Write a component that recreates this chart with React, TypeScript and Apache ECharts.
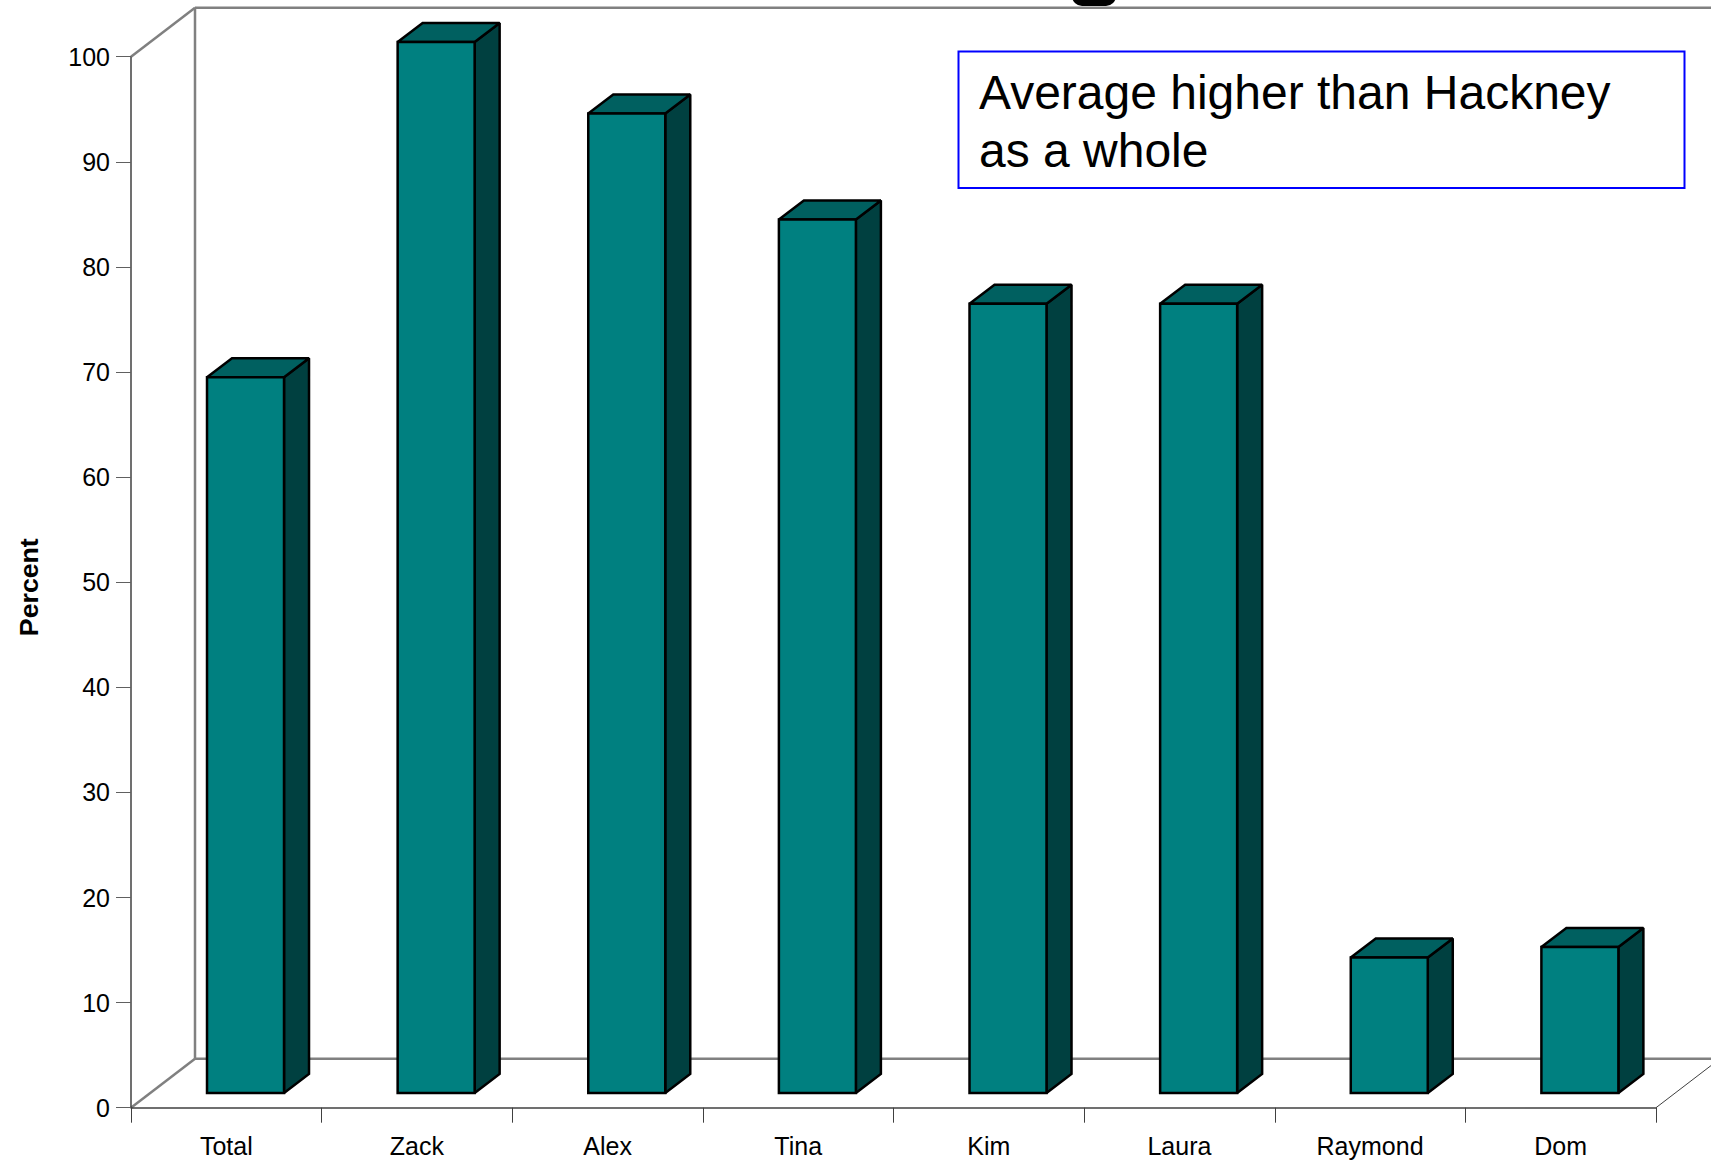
import React, { useEffect, useRef } from "react";
import * as echarts from "echarts";

const categories = ["Total", "Zack", "Alex", "Tina", "Kim", "Laura", "Raymond", "Dom"];
const percentValues = [68.1, 100, 93.2, 83.1, 75.1, 75.1, 12.9, 13.9];
const noteLines = ["Average higher than Hackney", "as a whole"];

const FONT = '"Liberation Sans", Arial, sans-serif';

// Plot frame: front plane of the axes plus the oblique depth of the box.
const PLOT = { left: 131, right: 1656, top: 56.7, bottom: 1107.7 };
const DEPTH = { x: 64, y: 49 };
const BAR = { width: 77, depthX: 25, depthY: 19, shiftX: 19.2, shiftY: 14.7 };
const WALL = "#808080";
const AXIS = "#404040";

// One oblique column: front face, roof and right-hand side.
function renderColumn(_params: any, api: any) {
  const index = api.value(0);
  const top = api.coord([index, api.value(1)]);
  const base = api.coord([index, 0]);
  const x0 = top[0] - BAR.width / 2 + BAR.shiftX;
  const x1 = x0 + BAR.width;
  const yTop = top[1] - BAR.shiftY;
  const yBase = base[1] - BAR.shiftY;
  const edge = { stroke: "#000000", lineWidth: 2.5, lineJoin: "miter", miterLimit: 2 };
  const dx = BAR.depthX;
  const dy = BAR.depthY;
  return {
    type: "group",
    children: [
      {
        type: "polygon",
        shape: { points: [[x1, yTop], [x1 + dx, yTop - dy], [x1 + dx, yBase - dy], [x1, yBase]] },
        style: { fill: "#004040", ...edge },
      },
      {
        type: "polygon",
        shape: { points: [[x0, yTop], [x0 + dx, yTop - dy], [x1 + dx, yTop - dy], [x1, yTop]] },
        style: { fill: "#006060", ...edge },
      },
      {
        type: "rect",
        shape: { x: x0, y: yTop, width: BAR.width, height: yBase - yTop },
        style: { fill: "#008080", ...edge },
      },
    ],
  };
}

function frameLine(x1: number, y1: number, x2: number, y2: number, stroke = WALL, lineWidth = 2.5) {
  return { type: "line", z: 0, shape: { x1, y1, x2, y2 }, style: { stroke, lineWidth } };
}

export default function App() {
  const ref = useRef<HTMLDivElement>(null);

  useEffect(() => {
    const chart = echarts.init(ref.current!, undefined, { renderer: "svg" });
    const backX = PLOT.left + DEPTH.x;
    const backTop = PLOT.top - DEPTH.y;
    const backBottom = PLOT.bottom - DEPTH.y;
    chart.setOption({
      animation: false,
      backgroundColor: "#ffffff",
      grid: {
        left: PLOT.left,
        top: PLOT.top,
        width: PLOT.right - PLOT.left,
        height: PLOT.bottom - PLOT.top,
        containLabel: false,
        outerBoundsMode: "none",
      },
      xAxis: {
        type: "category",
        data: categories,
        boundaryGap: true,
        axisLine: { show: true, lineStyle: { color: AXIS, width: 1.5 } },
        axisTick: { show: true, length: 15, lineStyle: { color: AXIS, width: 1 }, alignWithLabel: false, interval: 0 },
        axisLabel: { color: "#000000", fontFamily: FONT, fontSize: 25, margin: 26, interval: 0 },
      },
      yAxis: {
        type: "value",
        min: 0,
        max: 100,
        interval: 10,
        name: "Percent",
        nameLocation: "middle",
        nameGap: 89,
        nameRotate: 90,
        nameTextStyle: { color: "#000000", fontFamily: FONT, fontSize: 26.7, fontWeight: "bold", padding: [0, 10, 0, 0] },
        splitLine: { show: false },
        axisLine: { show: false },
        axisTick: { show: true, length: 15, lineStyle: { color: "#606060", width: 1 } },
        axisLabel: { color: "#000000", fontFamily: FONT, fontSize: 25, margin: 21, padding: [0, 0, 4, 0] },
      },
      series: [
        {
          type: "custom",
          renderItem: renderColumn,
          data: percentValues.map((v, i) => [i, v]),
          encode: { x: 0, y: 1 },
          clip: false,
          z: 5,
        },
      ],
      graphic: [
        frameLine(backX, backTop, 1711, backTop),
        frameLine(backX, backTop, backX, backBottom),
        frameLine(backX, backBottom, 1711, backBottom),
        frameLine(PLOT.left, PLOT.top, backX, backTop),
        frameLine(PLOT.left, PLOT.bottom, backX, backBottom),
        // Front edge of the value axis.
        frameLine(PLOT.left, PLOT.top, PLOT.left, PLOT.bottom, AXIS, 1.5),
        frameLine(PLOT.right, PLOT.bottom, 1711, PLOT.bottom - (DEPTH.y * (1711 - PLOT.right)) / DEPTH.x, AXIS, 1),
        {
          type: "rect",
          z: 20,
          shape: { x: 1072, y: -20, width: 44, height: 26, r: 10 },
          style: { fill: "#000000" },
        },
        {
          type: "rect",
          z: 20,
          shape: { x: 958.5, y: 51.5, width: 726, height: 136.5 },
          style: { fill: "#ffffff", stroke: "#0000ff", lineWidth: 2 },
        },
        {
          type: "text",
          z: 21,
          x: 979,
          y: 63,
          style: {
            text: noteLines.join("\n"),
            fill: "#000000",
            font: `48px ${FONT}`,
            lineHeight: 58,
          },
        },
      ],
    });
    return () => chart.dispose();
  }, []);

  return <div ref={ref} style={{ position: "fixed", left: 0, top: 0, width: 1711, height: 1162 }} />;
}
